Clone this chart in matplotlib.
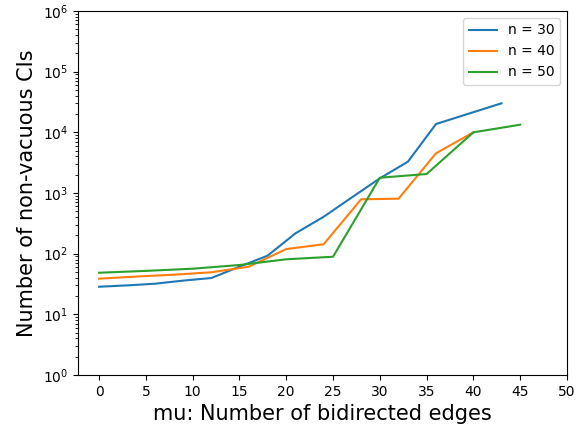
import matplotlib
matplotlib.use("Agg")
import matplotlib.pyplot as plt

x30 = [0, 3, 6, 9, 12, 15, 18, 21, 24, 27, 30, 33, 36, 43]
y30 = [28.5, 30, 32, 36, 39.7, 61, 92.5, 217, 406, 843, 1745, 3280, 13700, 30100]
x40 = [0, 4, 8, 12, 16, 20, 24, 28, 32, 36, 40]
y40 = [38.7, 42, 45, 49.3, 61, 119, 143, 787, 805, 4510, 10000]
x50 = [0, 5, 10, 15, 20, 25, 30, 35, 40, 45]
y50 = [48.5, 52, 56.5, 65, 80.8, 89, 1786, 2056, 10000, 13360]
labels = ["n = 30", "n = 40", "n = 50"]
xticks = list(range(0, 55, 5))

fig = plt.figure(figsize=(5.85, 4.29), dpi=100)
ax = fig.add_axes([78/585, 1-375/429, (567-78)/585, (375-11)/429])
ax.plot(x30, y30, label=labels[0])
ax.plot(x40, y40, label=labels[1])
ax.plot(x50, y50, label=labels[2])
ax.set_yscale("log")
ax.set_ylim(1, 1e6)
ax.set_xticks(xticks)
ax.set_xlim(-2.25, 50)
ax.set_xlabel("mu: Number of bidirected edges", fontsize=15)
ax.set_ylabel("Number of non-vacuous CIs", fontsize=15)
ax.legend(loc="upper right")
fig.savefig("out.png", dpi=100)
